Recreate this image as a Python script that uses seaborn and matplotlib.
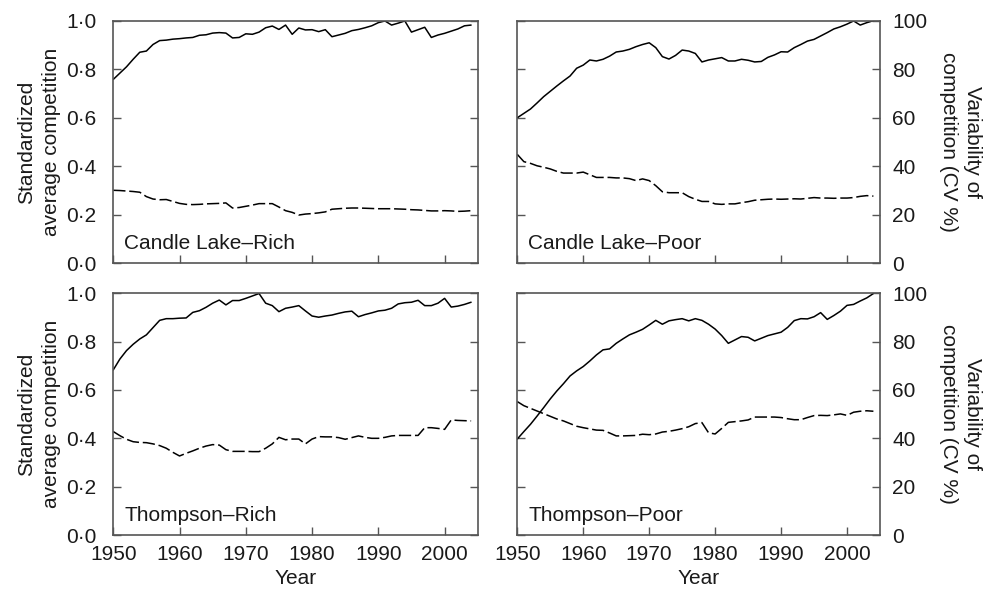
import matplotlib
matplotlib.use("Agg")
import matplotlib.pyplot as plt
import seaborn as sns
import pandas as pd

years = list(range(1950, 2005))

# solid = standardized average competition, dashed = CV (as fraction of 100)
clr_avg = [0.758, 0.784, 0.810, 0.841, 0.870, 0.875, 0.902, 0.918, 0.920, 0.924,
           0.926, 0.929, 0.931, 0.940, 0.942, 0.949, 0.951, 0.949, 0.929, 0.931,
           0.946, 0.944, 0.953, 0.971, 0.978, 0.964, 0.982, 0.944, 0.970, 0.962,
           0.963, 0.955, 0.963, 0.934, 0.941, 0.948, 0.959, 0.964, 0.971, 0.979,
           0.992, 0.999, 0.982, 0.990, 0.999, 0.953, 0.963, 0.973, 0.931, 0.941,
           0.948, 0.957, 0.966, 0.979, 0.982]
clr_cv = [0.301, 0.300, 0.298, 0.296, 0.293, 0.275, 0.265, 0.262, 0.263, 0.255,
          0.247, 0.243, 0.242, 0.243, 0.245, 0.246, 0.247, 0.249, 0.228, 0.230,
          0.235, 0.240, 0.246, 0.246, 0.246, 0.232, 0.217, 0.210, 0.199, 0.203,
          0.205, 0.208, 0.212, 0.223, 0.225, 0.227, 0.228, 0.228, 0.227, 0.226,
          0.225, 0.225, 0.225, 0.224, 0.223, 0.221, 0.220, 0.218, 0.216, 0.216,
          0.217, 0.216, 0.214, 0.215, 0.217]

clp_avg = [0.600, 0.618, 0.636, 0.661, 0.687, 0.709, 0.731, 0.752, 0.772, 0.804,
           0.817, 0.838, 0.834, 0.841, 0.854, 0.871, 0.875, 0.882, 0.893, 0.902,
           0.909, 0.889, 0.852, 0.842, 0.857, 0.879, 0.875, 0.865, 0.830, 0.838,
           0.843, 0.848, 0.834, 0.834, 0.841, 0.837, 0.830, 0.832, 0.849, 0.859,
           0.872, 0.871, 0.889, 0.902, 0.916, 0.923, 0.937, 0.951, 0.966, 0.975,
           0.986, 0.999, 0.982, 0.992, 1.000]
clp_cv = [0.449, 0.419, 0.412, 0.402, 0.396, 0.389, 0.379, 0.372, 0.372, 0.372,
          0.376, 0.365, 0.354, 0.354, 0.354, 0.352, 0.352, 0.349, 0.341, 0.348,
          0.341, 0.320, 0.295, 0.291, 0.291, 0.291, 0.275, 0.264, 0.255, 0.255,
          0.245, 0.243, 0.245, 0.245, 0.250, 0.254, 0.260, 0.262, 0.264, 0.265,
          0.264, 0.265, 0.266, 0.265, 0.268, 0.271, 0.269, 0.269, 0.268, 0.269,
          0.269, 0.271, 0.276, 0.279, 0.277]

tr_avg = [0.683, 0.728, 0.763, 0.789, 0.811, 0.828, 0.858, 0.888, 0.895, 0.895,
          0.897, 0.898, 0.921, 0.928, 0.942, 0.959, 0.972, 0.952, 0.970, 0.970,
          0.979, 0.989, 0.999, 0.959, 0.949, 0.924, 0.938, 0.943, 0.949, 0.927,
          0.906, 0.901, 0.906, 0.910, 0.917, 0.923, 0.926, 0.903, 0.912, 0.919,
          0.927, 0.930, 0.938, 0.956, 0.961, 0.963, 0.971, 0.949, 0.949, 0.959,
          0.979, 0.943, 0.947, 0.954, 0.963]
tr_cv = [0.428, 0.411, 0.396, 0.386, 0.383, 0.382, 0.377, 0.370, 0.359, 0.342,
         0.327, 0.338, 0.348, 0.359, 0.368, 0.374, 0.372, 0.353, 0.346, 0.346,
         0.346, 0.345, 0.345, 0.359, 0.377, 0.404, 0.394, 0.397, 0.397, 0.377,
         0.397, 0.407, 0.406, 0.406, 0.403, 0.396, 0.403, 0.410, 0.404, 0.400,
         0.400, 0.404, 0.410, 0.412, 0.412, 0.412, 0.412, 0.444, 0.444, 0.441,
         0.437, 0.476, 0.474, 0.473, 0.472]

tp_avg = [0.397, 0.428, 0.458, 0.492, 0.527, 0.563, 0.596, 0.626, 0.658, 0.679,
          0.697, 0.720, 0.745, 0.766, 0.770, 0.793, 0.811, 0.828, 0.839, 0.851,
          0.869, 0.888, 0.872, 0.886, 0.891, 0.895, 0.886, 0.895, 0.888, 0.872,
          0.852, 0.825, 0.793, 0.807, 0.821, 0.818, 0.803, 0.814, 0.825, 0.832,
          0.839, 0.859, 0.887, 0.895, 0.894, 0.903, 0.920, 0.892, 0.908, 0.926,
          0.950, 0.954, 0.968, 0.981, 0.999]
tp_cv = [0.552, 0.535, 0.524, 0.513, 0.502, 0.491, 0.480, 0.472, 0.461, 0.450,
         0.444, 0.439, 0.434, 0.433, 0.422, 0.410, 0.410, 0.411, 0.412, 0.417,
         0.415, 0.418, 0.426, 0.429, 0.434, 0.440, 0.448, 0.461, 0.465, 0.423,
         0.418, 0.441, 0.466, 0.469, 0.472, 0.476, 0.488, 0.488, 0.488, 0.488,
         0.486, 0.481, 0.477, 0.477, 0.486, 0.494, 0.495, 0.494, 0.497, 0.501,
         0.495, 0.508, 0.512, 0.514, 0.512]

panels = [
    ("Candle Lake\u2013Rich", clr_avg, clr_cv),
    ("Candle Lake\u2013Poor", clp_avg, clp_cv),
    ("Thompson\u2013Rich", tr_avg, tr_cv),
    ("Thompson\u2013Poor", tp_avg, tp_cv),
]

sns.set_style("ticks")
plt.rcParams['font.family'] = ['Liberation Sans', 'DejaVu Sans']
plt.rcParams['font.size'] = 15

fig = plt.figure(figsize=(9.84, 5.9), dpi=100)
positions = [
    [0.1151, 0.5537, 0.3704, 0.4112],
    [0.5257, 0.5537, 0.3686, 0.4112],
    [0.1151, 0.0932, 0.3704, 0.4097],
    [0.5257, 0.0932, 0.3686, 0.4097],
]
yticks = [0, 0.2, 0.4, 0.6, 0.8, 1.0]
spine_col = '#555555'
text_col = '#1a1a1a'

for i, (name, avg, cv) in enumerate(panels):
    ax = fig.add_axes(positions[i])
    df = pd.DataFrame({'year': years, 'avg': avg, 'cv': cv})
    sns.lineplot(data=df, x='year', y='avg', ax=ax, color='black', lw=1.1)
    sns.lineplot(data=df, x='year', y='cv', ax=ax, color='black', lw=1.1)
    ax.lines[-1].set_dashes([8, 2.5])
    ax.set_xlim(1950, 2005)
    ax.set_ylim(0, 1)
    ax.set_xticks([1950, 1960, 1970, 1980, 1990, 2000])
    ax.set_yticks(yticks)
    for s in ax.spines.values():
        s.set_visible(True)
        s.set_color(spine_col)
        s.set_linewidth(1.2)
    ax.tick_params(direction='in', length=6, width=1.0, color=spine_col,
                   left=True, right=True, top=False, bottom=True,
                   labelsize=15, labelcolor=text_col)
    ax.tick_params(axis='x', pad=7)
    left_col = i % 2 == 0
    if left_col:
        ax.tick_params(axis='y', pad=12)
        ax.set_yticklabels([f"{v:.1f}".replace('.', '\u00b7') for v in yticks])
        ax.set_ylabel("Standardized\naverage competition", fontsize=15,
                      linespacing=1.35, labelpad=4, color=text_col)
    else:
        ax.tick_params(axis='y', pad=9, labelleft=False, labelright=True)
        ax.set_yticklabels([str(int(round(v * 100))) for v in yticks])
        ax.yaxis.set_label_position('right')
        ax.set_ylabel("Variability of\ncompetition (CV %)", fontsize=15,
                      rotation=270, va='bottom', linespacing=1.35,
                      labelpad=8, color=text_col)
    if i < 2:
        ax.tick_params(labelbottom=False)
        ax.set_xlabel("")
    else:
        ax.set_xlabel("Year", fontsize=15, labelpad=4, color=text_col)
    ax.text(0.03, 0.06, name, transform=ax.transAxes, fontsize=15,
            va='baseline', ha='left', color=text_col)

fig.savefig("out.png", dpi=100)
